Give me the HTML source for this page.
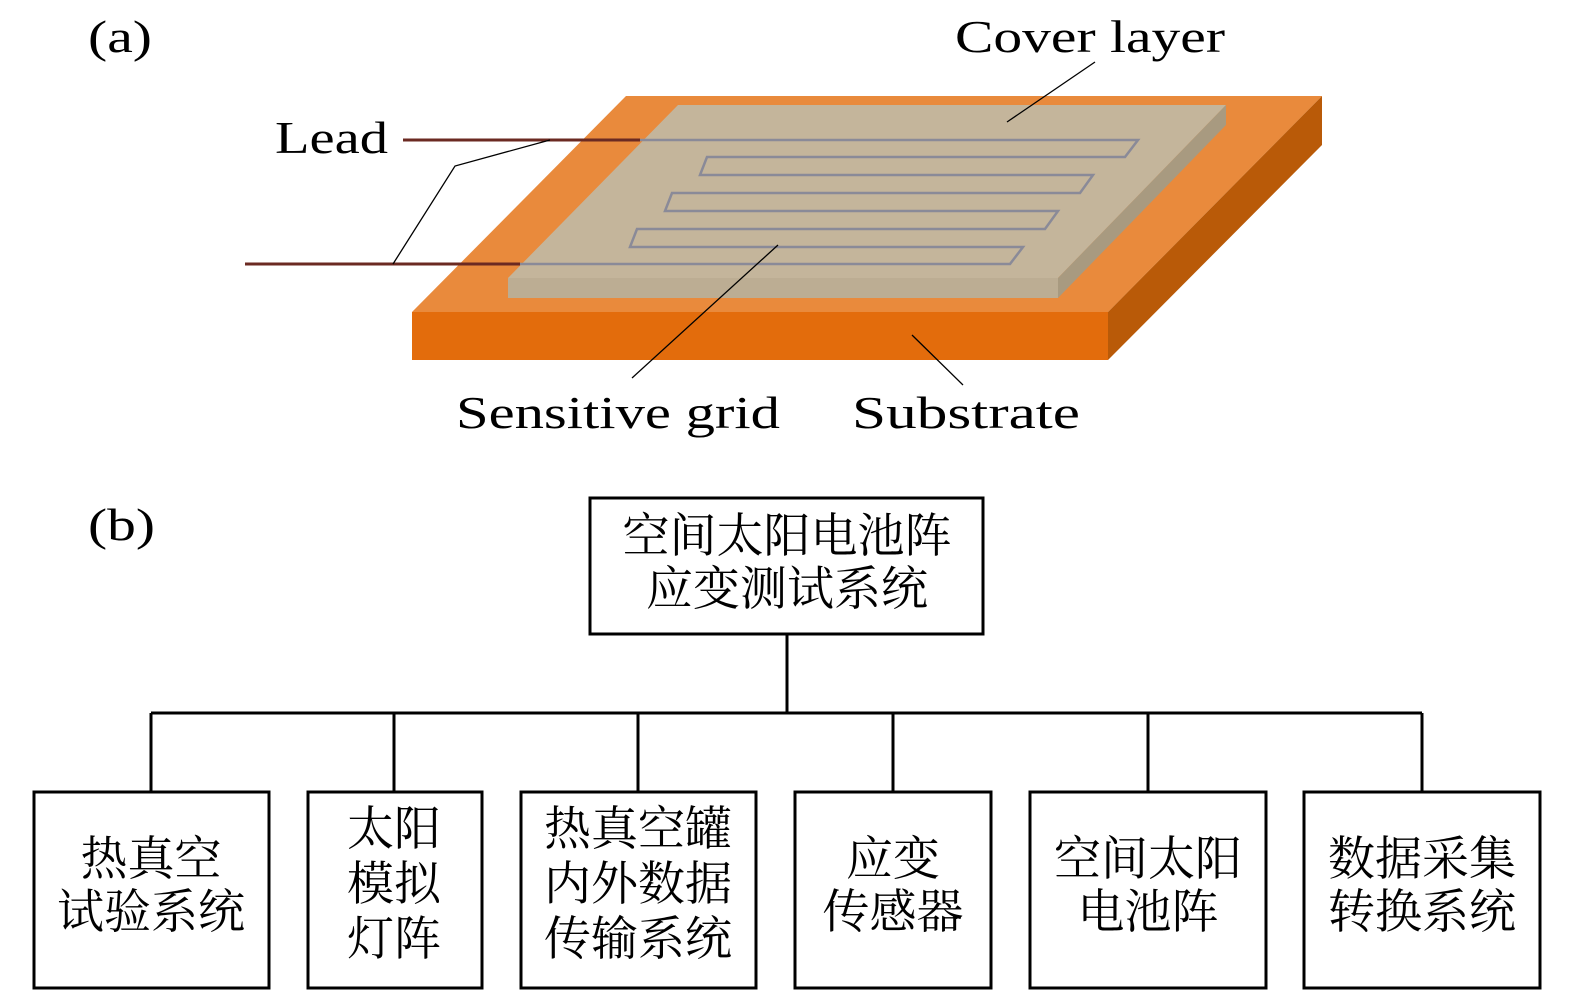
<!DOCTYPE html>
<html><head><meta charset="utf-8"><style>
html,body{margin:0;padding:0;background:#fff}
svg{display:block}
.en{font-family:"Liberation Serif",serif;font-size:46px;fill:#000}
.cn{font-family:"Liberation Serif","Noto Serif CJK SC",serif;font-size:47px;fill:#000;text-anchor:middle;dominant-baseline:central}
</style></head><body>
<svg width="1575" height="1004" viewBox="0 0 1575 1004" xmlns="http://www.w3.org/2000/svg">
<polygon points="626,96 1322,96 1108,312 412,312" fill="#e98a3c"/>
<polygon points="412,312 1108,312 1108,360 412,360" fill="#e36c0c"/>
<polygon points="1108,312 1322,96 1322,145 1108,360" fill="#b95a08"/>
<polygon points="678,105 1226,105 1058,278 508,278" fill="#c4b59b"/>
<polygon points="508,278 1058,278 1058,298 508,298" fill="#bcad93"/>
<polygon points="1058,278 1226,105 1226,125 1058,298" fill="#a89a80"/>
<line x1="403" y1="140" x2="640" y2="140" stroke="#6b2a22" stroke-width="3"/>
<line x1="245" y1="264" x2="520" y2="264" stroke="#6b2a22" stroke-width="3"/>
<polyline fill="none" stroke="#8a8a98" stroke-width="2.5" points="640,140 1138,140 1125,157 707,157 700,175 1093,175 1080,193 672,193 665,211 1058,211 1045,229 637,229 630,247 1023,247 1010,264 520,264"/>
<polyline fill="none" stroke="#000" stroke-width="1.3" points="550,140 455,166 393,264"/>
<line x1="1095" y1="62" x2="1007" y2="122" stroke="#000" stroke-width="1.3"/>
<line x1="778" y1="245" x2="632" y2="378" stroke="#000" stroke-width="1.3"/>
<line x1="912" y1="335" x2="963" y2="385" stroke="#000" stroke-width="1.3"/>
<text class="en" x="88" y="52" textLength="64" lengthAdjust="spacingAndGlyphs">(a)</text>
<text class="en" x="955" y="52" textLength="270" lengthAdjust="spacingAndGlyphs">Cover layer</text>
<text class="en" x="275" y="153" textLength="113" lengthAdjust="spacingAndGlyphs">Lead</text>
<text class="en" x="456" y="428" textLength="324" lengthAdjust="spacingAndGlyphs">Sensitive grid</text>
<text class="en" x="852" y="428" textLength="228" lengthAdjust="spacingAndGlyphs">Substrate</text>
<text class="en" x="88" y="540" textLength="67" lengthAdjust="spacingAndGlyphs">(b)</text>
<g fill="none" stroke="#000" stroke-width="3">
<rect x="590" y="498" width="393" height="136"/>
<line x1="787" y1="634" x2="787" y2="713"/>
<line x1="151" y1="713" x2="1422" y2="713"/>
<line x1="151" y1="713" x2="151" y2="792"/>
<line x1="394" y1="713" x2="394" y2="792"/>
<line x1="638" y1="713" x2="638" y2="792"/>
<line x1="893" y1="713" x2="893" y2="792"/>
<line x1="1148" y1="713" x2="1148" y2="792"/>
<line x1="1422" y1="713" x2="1422" y2="792"/>
<rect x="34" y="792" width="235" height="196"/>
<rect x="308" y="792" width="174" height="196"/>
<rect x="521" y="792" width="235" height="196"/>
<rect x="795" y="792" width="196" height="196"/>
<rect x="1030" y="792" width="236" height="196"/>
<rect x="1304" y="792" width="236" height="196"/>
</g>
<text class="cn" x="787" y="537">空间太阳电池阵</text>
<text class="cn" x="787" y="590">应变测试系统</text>
<text class="cn" x="151" y="860">热真空</text>
<text class="cn" x="151" y="913">试验系统</text>
<text class="cn" x="394" y="830">太阳</text>
<text class="cn" x="394" y="885">模拟</text>
<text class="cn" x="394" y="940">灯阵</text>
<text class="cn" x="638" y="830">热真空罐</text>
<text class="cn" x="638" y="885">内外数据</text>
<text class="cn" x="638" y="940">传输系统</text>
<text class="cn" x="893" y="860">应变</text>
<text class="cn" x="893" y="913">传感器</text>
<text class="cn" x="1148" y="860">空间太阳</text>
<text class="cn" x="1148" y="913">电池阵</text>
<text class="cn" x="1422" y="860">数据采集</text>
<text class="cn" x="1422" y="913">转换系统</text>
</svg>
</body></html>
